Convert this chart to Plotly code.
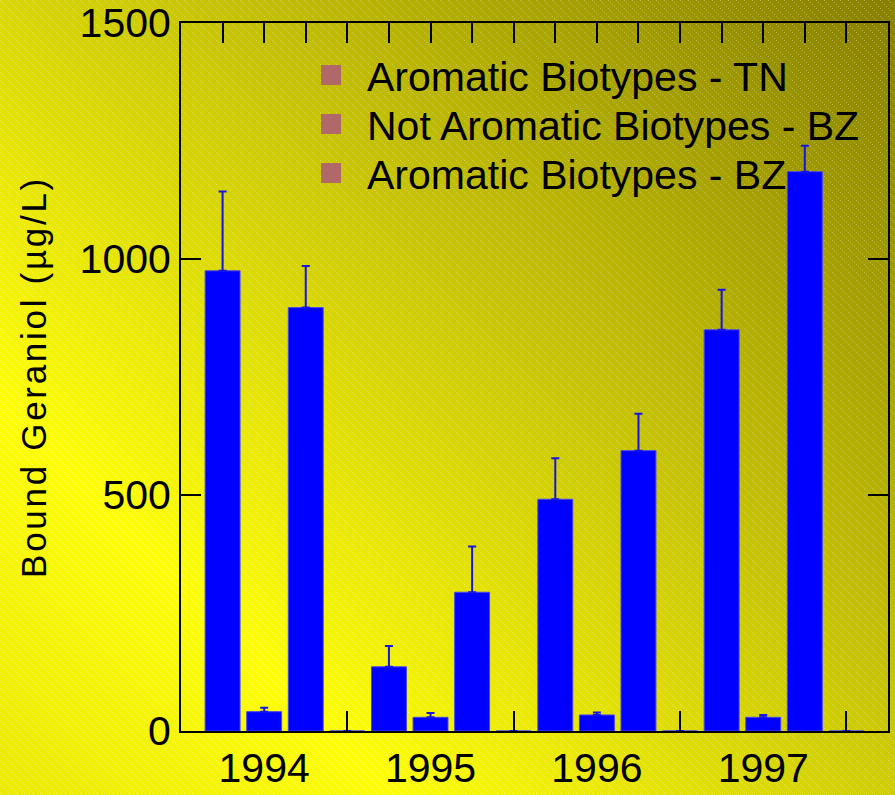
import base64
import struct
import zlib

import numpy as np
import plotly.graph_objects as go

# ---- data -----------------------------------------------------------------
years = ["1994", "1995", "1996", "1997"]
series_names = [
    "Aromatic Biotypes - TN",
    "Not Aromatic Biotypes - BZ",
    "Aromatic Biotypes - BZ",
]
aromatic_tn = [975, 136, 491, 850]
aromatic_tn_err = [168, 44, 87, 85]
not_aromatic_bz = [41, 29, 34, 29]
not_aromatic_bz_err = [8, 9, 5, 5]
aromatic_bz = [897, 294, 594, 1185]
aromatic_bz_err = [88, 97, 78, 55]
empty_slot = [0, 0, 0, 0]
y_ticks = [0, 500, 1000, 1500]

# ---- layout constants -----------------------------------------------------
W, H = 895, 795
ML, MR, MT, MB = 181, 7, 23, 64
PW, PH = W - ML - MR, H - MT - MB
SLOTS = 4  # three series plus a blank spacer per year
n_years = len(years)
x_max = n_years * SLOTS + 1

BAR_BLUE = "#0000ff"
LEGEND_SWATCH = "#b06868"
FONT = "Liberation Sans, Arial, sans-serif"


def px_to_paper(px, py):
    return (px - ML) / PW, (H - MB - py) / PH


def png_data_uri(rgb):
    """Encode an HxWx3 uint8 array as a PNG data URI."""
    h, w, _ = rgb.shape
    raw = b"".join(b"\x00" + rgb[r].tobytes() for r in range(h))

    def chunk(tag, data):
        c = tag + data
        return struct.pack(">I", len(data)) + c + struct.pack(">I", zlib.crc32(c) & 0xFFFFFFFF)

    png = b"\x89PNG\r\n\x1a\n"
    png += chunk(b"IHDR", struct.pack(">IIBBBBB", w, h, 8, 2, 0, 0, 0))
    png += chunk(b"IDAT", zlib.compress(raw, 9))
    png += chunk(b"IEND", b"")
    return "data:image/png;base64," + base64.b64encode(png).decode()


# yellow -> olive diagonal gradient with fine dotted diagonal hatching
yy, xx = np.mgrid[0:H, 0:W].astype(float)
s = ((xx - 250) - (yy - 650)) / np.sqrt(2)
v = np.where(s > 0, 255 - 0.13 * s, 255 + 0.07 * s)
v = np.clip(v, 0, 255)
r = v
g = v - 0.06 * (255 - v)
b = np.zeros_like(v)
stripe = ((xx.astype(int) - yy.astype(int)) % 8 == 0) & (xx.astype(int) % 2 == 0)
alpha = 0.3
r = np.where(stripe, r + (255 - r) * alpha, r)
g = np.where(stripe, g + (255 - g) * alpha, g)
b = np.where(stripe, b + (255 - b) * alpha, b)
bg = np.stack([r, g, b], axis=-1).clip(0, 255).astype(np.uint8)
bg_uri = png_data_uri(bg)

# ---- figure ---------------------------------------------------------------
fig = go.Figure()

series_values = [aromatic_tn, not_aromatic_bz, aromatic_bz, empty_slot]
series_errors = [aromatic_tn_err, not_aromatic_bz_err, aromatic_bz_err, empty_slot]
for k, (vals, errs) in enumerate(zip(series_values, series_errors)):
    xs = [i * SLOTS + k + 1 for i in range(n_years)]
    fig.add_trace(
        go.Bar(
            x=xs,
            y=vals,
            width=0.84,
            name=series_names[k] if k < len(series_names) else "",
            marker=dict(color=BAR_BLUE, line=dict(color="#4646f0", width=1)),
            error_y=dict(type="data", symmetric=False, array=errs,
                         arrayminus=[0] * len(errs), visible=True,
                         color="#1414e6", thickness=2, width=4),
            showlegend=False,
            hoverinfo="skip",
        )
    )

# carrier for the top axis
fig.add_trace(
    go.Scatter(x=[0], y=[0], xaxis="x2", yaxis="y", mode="markers",
               marker=dict(opacity=0), showlegend=False, hoverinfo="skip")
)

# legend block: swatches and labels
shapes = []
annotations = []
legend_rows_py = [75, 124, 173]
for name, py in zip(series_names, legend_rows_py):
    x0, y0 = px_to_paper(321, py + 10)
    x1, y1 = px_to_paper(341, py - 10)
    shapes.append(dict(type="rect", xref="paper", yref="paper",
                       x0=x0, y0=y0, x1=x1, y1=y1,
                       fillcolor=LEGEND_SWATCH, line=dict(width=0)))
    tx, ty = px_to_paper(365, py + 2)
    annotations.append(dict(text=name, xref="paper", yref="paper", x=tx, y=ty,
                            xanchor="left", yanchor="middle", showarrow=False,
                            font=dict(size=41, family=FONT, color="black")))

group_centres = [i * SLOTS + 2 for i in range(n_years)]
group_edges = [i * SLOTS + SLOTS for i in range(n_years)]

fig.update_layout(
    width=W,
    height=H,
    margin=dict(l=ML, r=MR, t=MT, b=MB, autoexpand=False),
    paper_bgcolor="#e8e800",
    plot_bgcolor="rgba(0,0,0,0)",
    barmode="overlay",
    showlegend=False,
    font=dict(family=FONT, color="black"),
    shapes=shapes,
    annotations=annotations,
    images=[
        dict(
            source=bg_uri, xref="paper", yref="paper",
            x=-ML / PW, y=1 + MT / PH,
            sizex=W / PW, sizey=H / PH,
            sizing="stretch", xanchor="left", yanchor="top", layer="below",
        )
    ],
    xaxis=dict(
        range=[0, x_max],
        tickmode="array",
        tickvals=group_centres,
        ticktext=years,
        ticks="",
        tickfont=dict(size=41),
        showline=True, linecolor="black", linewidth=2,
        showgrid=False, zeroline=False,
        minor=dict(tickmode="array", tickvals=group_edges, ticks="inside",
                   ticklen=20, tickwidth=2, tickcolor="black", showgrid=False),
    ),
    xaxis2=dict(
        range=[0, x_max], overlaying="x", side="top", anchor="y",
        tickmode="array", tickvals=list(range(1, x_max)),
        ticks="inside", ticklen=20, tickwidth=2, tickcolor="black",
        showticklabels=False,
        showline=True, linecolor="black", linewidth=2,
        showgrid=False, zeroline=False,
    ),
    yaxis=dict(
        range=[0, 1500],
        tickmode="array", tickvals=y_ticks,
        ticks="inside", ticklen=20, tickwidth=2, tickcolor="black",
        tickfont=dict(size=41),
        showline=True, linecolor="black", linewidth=2, mirror="ticks",
        showgrid=False, zeroline=False,
        title=dict(
            text='<span style="letter-spacing:2.7px">Bound Geraniol (µg/L)</span>',
            font=dict(size=35), standoff=22,
        ),
    ),
)

fig.write_html("out.html")
